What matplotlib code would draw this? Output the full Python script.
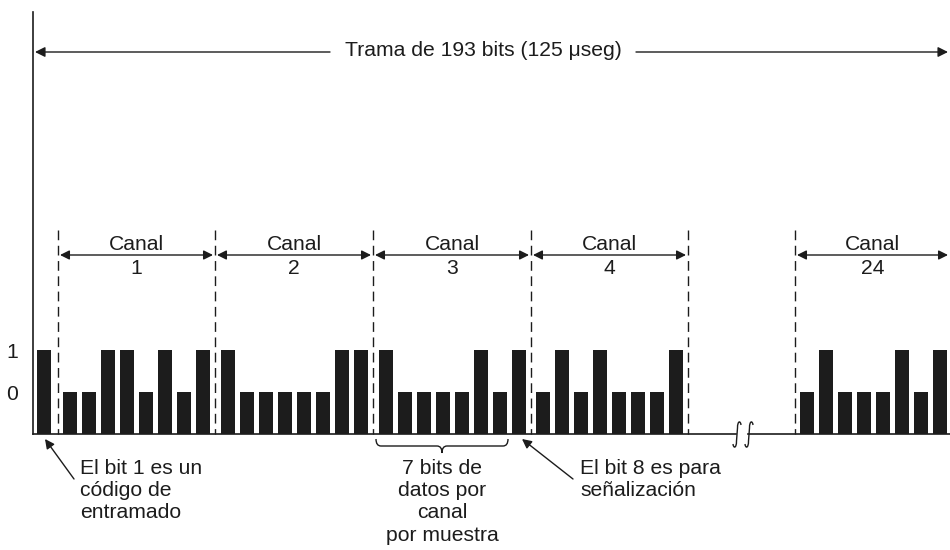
import matplotlib.pyplot as plt
from matplotlib.path import Path
from matplotlib.patches import PathPatch

plt.rcParams["font.family"] = ["Liberation Sans", "DejaVu Sans"]

# data: bit values per channel
bit_entramado = [1]
canales = ["1", "2", "3", "4", "24"]
bits_canal = [
    [0, 0, 1, 1, 0, 1, 0, 1],
    [1, 0, 0, 0, 0, 0, 1, 1],
    [1, 0, 0, 0, 0, 1, 0, 1],
    [0, 1, 0, 1, 0, 0, 0, 1],
    [0, 1, 0, 0, 0, 1, 0, 1],
]
niveles = ["0", "1"]
titulo = "Trama de 193 bits (125 \u03bcseg)"
nota_bit1 = ["El bit 1 es un", "c\u00f3digo de", "entramado"]
nota_datos = ["7 bits de", "datos por", "canal", "por muestra"]
nota_bit8 = ["El bit 8 es para", "se\u00f1alizaci\u00f3n"]

# layout (pixel-like data coords, y grows downwards)
BASE = 434
UNIT = 42
STEP = 19
X_ENTRAMADO = 44
inicio_canal = [70, 228, 386, 543, 807]
separadores = [58, 215, 373, 531, 688, 795]
ink = "#1c1c1c"
fs = 15.2

fig = plt.figure(figsize=(9.5, 5.5), dpi=100, facecolor="w")
ax = fig.add_axes([0, 0, 1, 1])
ax.set_xlim(0, 950)
ax.set_ylim(550, 0)
ax.axis("off")

# bars
ax.bar([X_ENTRAMADO], [-UNIT * (b + 1) for b in bit_entramado], bottom=BASE,
       width=14, color=ink)
for x0, bits in zip(inicio_canal, bits_canal):
    xs = [x0 + STEP * k for k in range(len(bits))]
    ax.bar(xs, [-UNIT * (b + 1) for b in bits], bottom=BASE, width=14, color=ink)

# level labels
for i, lab in enumerate(niveles):
    ax.text(12, BASE - UNIT * (i + 1) + 2, lab, fontsize=fs, ha="center", va="center", color=ink)

# vertical axis and baseline with break
ax.plot([33, 33], [12, BASE], color=ink, lw=1.2)
ax.plot([33, 736], [BASE, BASE], color=ink, lw=1.2)
ax.plot([748, 950], [BASE, BASE], color=ink, lw=1.2)
for xb in [737, 749]:
    verts = [(xb - 4, 444), (xb - 3.5, 448.5), (xb - 0.5, 448.5), (xb - 0.5, 441),
             (xb + 0.5, 428), (xb + 0.5, 420.5), (xb + 3.5, 420.5), (xb + 4, 425)]
    codes = [Path.MOVETO, Path.CURVE4, Path.CURVE4, Path.CURVE4,
             Path.LINETO, Path.CURVE4, Path.CURVE4, Path.CURVE4]
    ax.add_patch(PathPatch(Path(verts, codes), fill=False, lw=1.0, color=ink))

# dashed separators
for xs in separadores:
    ax.plot([xs, xs], [230, BASE], color=ink, lw=1.0, dashes=(7, 4))

# channel arrows and labels
for i, nombre in enumerate(canales):
    a = separadores[i] if i < 4 else separadores[5]
    b = separadores[i + 1] if i < 4 else 950
    ax.annotate("", xy=(a + 2, 255), xytext=(b - 2, 255),
                arrowprops=dict(arrowstyle="<|-|>", color=ink, lw=1.0,
                                mutation_scale=14, shrinkA=0, shrinkB=0))
    xc = (a + b) / 2
    ax.text(xc, 245, "Canal", fontsize=fs, ha="center", va="center", color=ink)
    ax.text(xc, 268, nombre, fontsize=fs, ha="center", va="center", color=ink)

# frame arrow
ax.annotate("", xy=(35, 52), xytext=(330, 52),
            arrowprops=dict(arrowstyle="-|>", color=ink, lw=1.0, mutation_scale=15,
                            shrinkA=0, shrinkB=0))
ax.annotate("", xy=(948, 52), xytext=(636, 52),
            arrowprops=dict(arrowstyle="-|>", color=ink, lw=1.0, mutation_scale=15,
                            shrinkA=0, shrinkB=0))
ax.text(483, 50, titulo, fontsize=fs, ha="center", va="center", color=ink)

# annotations
ax.annotate("", xy=(45, 439), xytext=(74, 479),
            arrowprops=dict(arrowstyle="-|>", color=ink, lw=1.0, mutation_scale=14,
                            shrinkA=0, shrinkB=0))
ax.annotate("", xy=(522, 439), xytext=(573, 479),
            arrowprops=dict(arrowstyle="-|>", color=ink, lw=1.0, mutation_scale=14,
                            shrinkA=0, shrinkB=0))
for k, line in enumerate(nota_bit1):
    ax.text(80, 468 + 22.5 * k, line, fontsize=fs, ha="left", va="center", color=ink)
for k, line in enumerate(nota_datos):
    ax.text(442, 468 + 22.5 * k, line, fontsize=fs, ha="center", va="center", color=ink)
for k, line in enumerate(nota_bit8):
    ax.text(580, 468 + 22.5 * k, line, fontsize=fs, ha="left", va="center", color=ink)

# brace under channel 3 data bits
L, R, M, T, Y, P = 376, 508, 442, 439, 446, 453
verts = [(L, T), (L, Y), (L + 5, Y), (M - 5, Y), (M, Y), (M, P),
         (M, Y), (M + 5, Y), (R - 5, Y), (R, Y), (R, T)]
codes = [Path.MOVETO, Path.CURVE3, Path.CURVE3, Path.LINETO, Path.CURVE3, Path.CURVE3,
         Path.CURVE3, Path.CURVE3, Path.LINETO, Path.CURVE3, Path.CURVE3]
ax.add_patch(PathPatch(Path(verts, codes), fill=False, lw=1.0, color=ink))

fig.savefig("out.png", dpi=100, facecolor="w")
